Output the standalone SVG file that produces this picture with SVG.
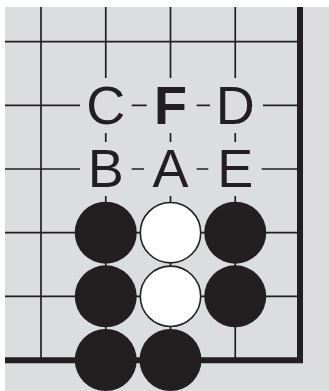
<svg xmlns="http://www.w3.org/2000/svg" width="329" height="391" viewBox="0 0 329 391">
<style>
.bg{fill:#dcdddf}
.g{stroke:#231f20;stroke-width:1.7;fill:none}
.edge{stroke:#231f20;stroke-width:6;fill:none}
.lbl{font-family:"Liberation Sans",Arial,Helvetica,sans-serif;font-size:54px;fill:#231f20;text-anchor:middle}
.b{fill:#231f20}
.w{fill:#ffffff;stroke:#231f20;stroke-width:1.6}
</style>
<rect width="329" height="391" fill="#ffffff"/>
<rect class="bg" x="5" y="7" width="324" height="384"/>
<g id="grid">
<path class="g" d="M5 41.7H300M5 105.4H300M5 169H300M5 232.7H300M5 296.3H300"/>
<path class="g" d="M41 7V360M105.75 7V360M170.5 7V360M235.25 7V360"/>
<path class="edge" d="M5 360.3H303M300 7V363.3"/>
</g>
<g id="masks">
<rect class="bg" x="80" y="78" width="51.7" height="55"/>
<rect class="bg" x="146.7" y="78" width="50" height="55"/>
<rect class="bg" x="210" y="78" width="53" height="55"/>
<rect class="bg" x="80" y="142" width="51.7" height="54"/>
<rect class="bg" x="144" y="142" width="52.7" height="54"/>
<rect class="bg" x="208.3" y="142" width="53.4" height="54"/>
</g>
<g id="labels">
<text id="C" class="lbl" x="105.75" y="123.8">C</text>
<text id="F" class="lbl" x="170.5" y="123.8" font-weight="bold">F</text>
<text id="D" class="lbl" x="235.25" y="123.8">D</text>
<text id="B" class="lbl" x="105.75" y="186.8">B</text>
<text id="A" class="lbl" x="170.5" y="186.8">A</text>
<text id="E" class="lbl" x="235.25" y="186.8">E</text>
</g>
<g id="stones">
<circle id="s1" class="b" cx="105.75" cy="232.7" r="31"/>
<circle id="s2" class="w" cx="170.5" cy="232.7" r="30.2"/>
<circle id="s3" class="b" cx="235.25" cy="232.7" r="31"/>
<circle id="s4" class="b" cx="105.75" cy="296.3" r="31"/>
<circle id="s5" class="w" cx="170.5" cy="296.3" r="30.2"/>
<circle id="s6" class="b" cx="235.25" cy="296.3" r="31"/>
<circle id="s7" class="b" cx="105.75" cy="360" r="31"/>
<circle id="s8" class="b" cx="170.5" cy="360" r="31"/>
</g>
</svg>
